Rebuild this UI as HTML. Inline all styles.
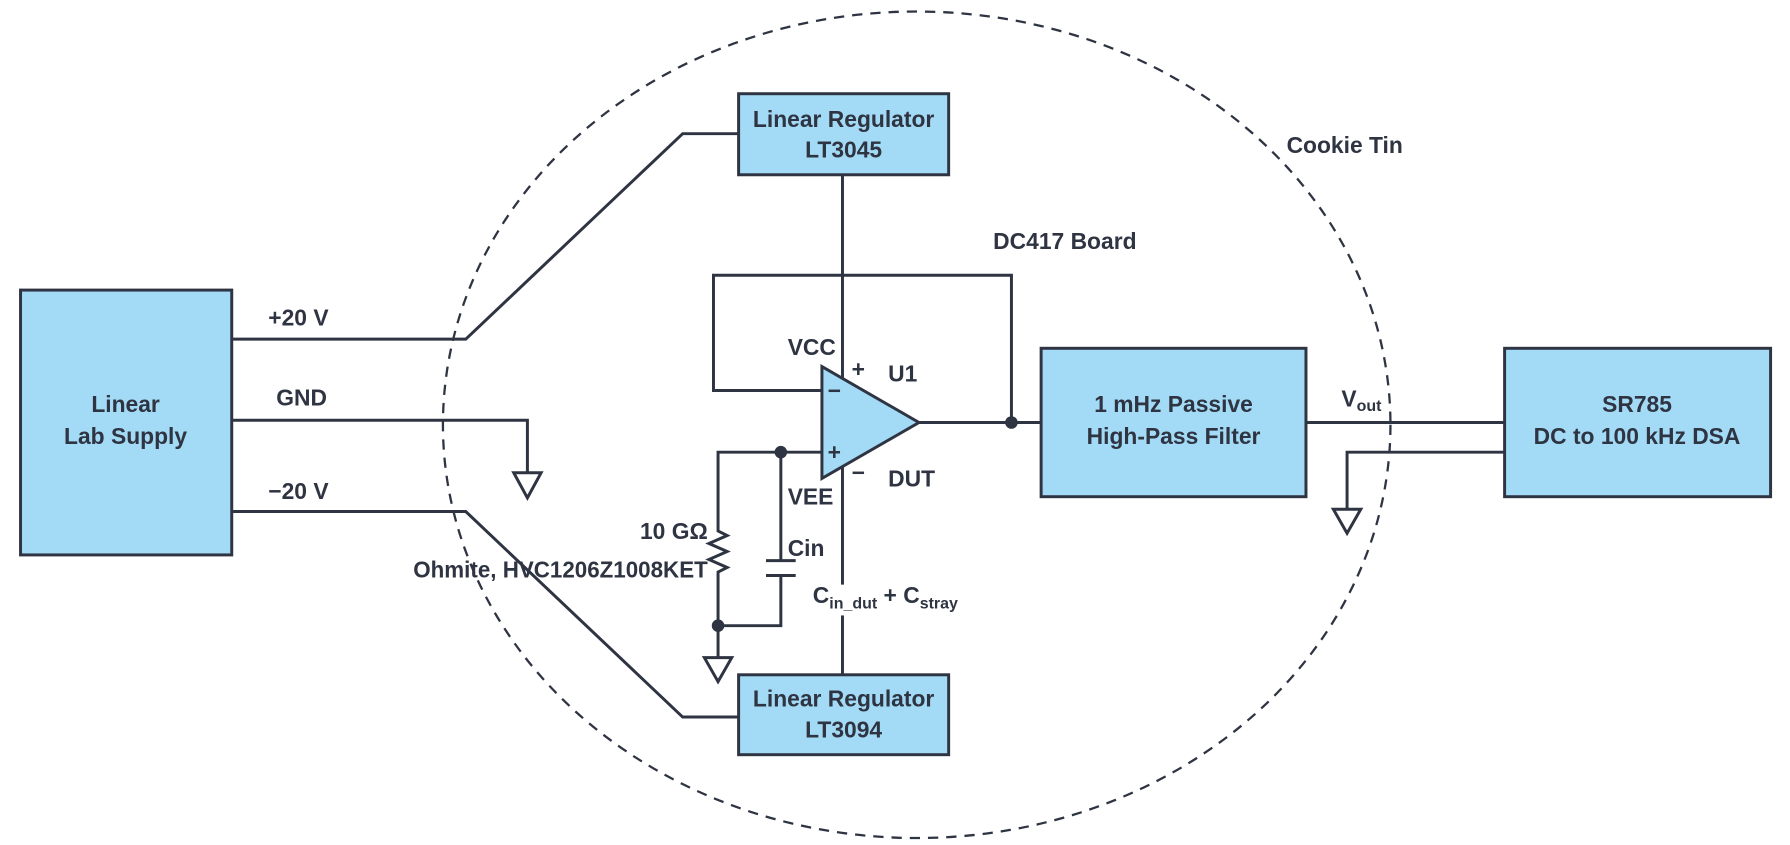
<!DOCTYPE html>
<html><head><meta charset="utf-8"><style>
html,body{margin:0;padding:0;background:#fff;}
svg{display:block;}
text{font-family:"Liberation Sans",sans-serif;font-weight:bold;fill:#2f3442;font-size:20px;}
</style></head><body>
<svg width="1790" height="845" viewBox="0 0 1568 740" xmlns="http://www.w3.org/2000/svg">
<g stroke="#2f3442" stroke-width="2.6" fill="none">
<ellipse cx="803" cy="372" rx="415" ry="362" stroke-dasharray="9 7" stroke-width="2"/>
<rect x="18" y="254" width="185" height="232" fill="#a3dbf6"/>
<rect x="647" y="82" width="184" height="71" fill="#a3dbf6"/>
<rect x="647" y="591" width="184" height="70" fill="#a3dbf6"/>
<rect x="912" y="305" width="232" height="130" fill="#a3dbf6"/>
<rect x="1318" y="305" width="233" height="130" fill="#a3dbf6"/>
<polyline points="203,297 408,297 598,117 647,117"/>
<polyline points="203,448 408,448 598,628 647,628"/>
<polyline points="203,368 462,368 462,414"/>
<polygon points="450,414 474,414 462,436"/>
<line x1="738" y1="153" x2="738" y2="512"/>
<line x1="738" y1="539" x2="738" y2="591"/>
<polyline points="720,342 625,342 625,241 886,241 886,370"/>
<line x1="805" y1="370" x2="912" y2="370"/>
<polyline points="720,396 629,396 629,465 637,469 621,476 637,483 621,490 637,497 629,501 629,548 684,548 684,504"/>
<line x1="684" y1="396" x2="684" y2="491"/>
<line x1="671" y1="491" x2="697" y2="491"/>
<line x1="671" y1="504" x2="697" y2="504"/>
<line x1="629" y1="548" x2="629" y2="576"/>
<polygon points="617,576 641,576 629,597"/>
<polygon points="720,321 805,370 720,419" fill="#a3dbf6"/>
<line x1="1144" y1="370" x2="1318" y2="370"/>
<polyline points="1318,396 1180,396 1180,446"/>
<polygon points="1168,446 1192,446 1180,467"/>
</g>
<g fill="#2f3442">
<circle cx="886" cy="370" r="5.5"/>
<circle cx="684" cy="396" r="5.5"/>
<circle cx="629" cy="548" r="5.5"/>
</g>
<g text-anchor="middle">
<text x="110" y="361">Linear</text>
<text x="110" y="389">Lab Supply</text>
<text x="739" y="111">Linear Regulator</text>
<text x="739" y="138">LT3045</text>
<text x="739" y="619">Linear Regulator</text>
<text x="739" y="646">LT3094</text>
<text x="1028" y="361">1 mHz Passive</text>
<text x="1028" y="389">High-Pass Filter</text>
<text x="1434" y="361">SR785</text>
<text x="1434" y="389">DC to 100 kHz DSA</text>
</g>
<text x="235" y="285">+20 V</text>
<text x="242" y="355">GND</text>
<text x="235" y="437">−20 V</text>
<text x="620" y="472" text-anchor="end">10 GΩ</text>
<text x="362" y="506" textLength="258" lengthAdjust="spacingAndGlyphs">Ohmite, HVC1206Z1008KET</text>
<text x="690" y="487">Cin</text>
<text x="712" y="528">C<tspan font-size="14" dy="5">in_dut</tspan><tspan dy="-5"> + C</tspan><tspan font-size="14" dy="5">stray</tspan></text>
<text x="690" y="311">VCC</text>
<text x="690" y="442">VEE</text>
<text x="746" y="330">+</text>
<text x="778" y="334">U1</text>
<text x="746" y="421">−</text>
<text x="778" y="426">DUT</text>
<text x="725" y="349" font-size="17">−</text>
<text x="725" y="403" font-size="17">+</text>
<text x="870" y="218">DC417 Board</text>
<text x="1127" y="134">Cookie Tin</text>
<text x="1175" y="356">V<tspan font-size="14" dy="4">out</tspan></text>
</svg>
</body></html>
